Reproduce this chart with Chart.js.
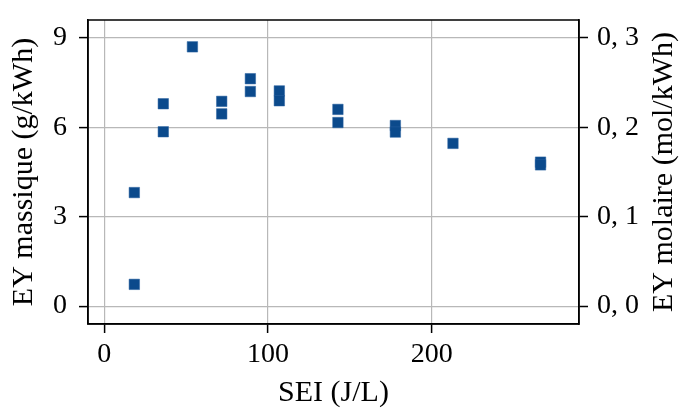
<!DOCTYPE html>
<html lang="fr">
<head>
    <meta charset="UTF-8">
    <title>EY vs SEI</title>
    <script src="https://cdn.jsdelivr.net/npm/chart.js"></script>
    <style>
        body { margin: 0; background: #fff; }
        canvas { display: block; }
    </style>
</head>
<body>
    <canvas id="eyChart" width="679" height="408"></canvas>

    <script>
        // Data
        const sei = [18.3, 18.3, 36, 36, 53.8, 71.7, 71.7, 89.2, 89.2, 106.9, 106.9, 142.7, 142.7, 177.8, 177.8, 213, 266.5, 266.5];
        const eyMassique = [3.81, 0.73, 6.79, 5.85, 8.70, 6.87, 6.45, 7.63, 7.20, 7.22, 6.89, 6.60, 6.16, 6.06, 5.84, 5.46, 4.83, 4.74];

        const xTicks = [0, 100, 200];
        const leftTicks = [0, 3, 6, 9];
        const rightTicks = [0, 0.1, 0.2, 0.3];
        const molFactor = 30; // g/kWh -> mol/kWh

        const FONT = "'Liberation Serif', 'DejaVu Serif', serif";
        const tickFont = { family: FONT, size: 28 };
        const titleFont = { family: FONT, size: 30, lineHeight: 1 };

        // frame on all four sides + right title reading upwards
        const framePlugin = {
            id: 'frame',
            afterDraw(chart) {
                const { ctx, chartArea: a } = chart;
                ctx.save();
                ctx.strokeStyle = '#000';
                ctx.lineWidth = 1.5;
                ctx.strokeRect(a.left, a.top, a.right - a.left, a.bottom - a.top);
                ctx.translate(664, (a.top + a.bottom) / 2);
                ctx.rotate(-Math.PI / 2);
                ctx.font = '30px ' + FONT;
                ctx.fillStyle = '#000';
                ctx.textAlign = 'center';
                ctx.textBaseline = 'middle';
                ctx.fillText('EY molaire (mol/kWh)', 0, 0);
                ctx.restore();
            }
        };

        const noPad = s => { s.paddingTop = 0; s.paddingBottom = 0; s.paddingLeft = 0; s.paddingRight = 0; };

        const ctx = document.getElementById('eyChart').getContext('2d');
        const eyChart = new Chart(ctx, {
            type: 'scatter',
            data: {
                datasets: [{
                    data: sei.map((x, i) => ({ x: x, y: eyMassique[i] })),
                    backgroundColor: '#0b4a8c',
                    borderColor: '#2a63a0',
                    borderWidth: 0.5,
                    pointStyle: 'rect',
                    pointRadius: 7.4,
                    pointHoverRadius: 7.4
                }]
            },
            options: {
                responsive: false,
                animation: false,
                layout: { padding: { top: 20, left: 0, right: 0, bottom: 0 } },
                plugins: {
                    legend: { display: false },
                    tooltip: { enabled: false }
                },
                scales: {
                    x: {
                        type: 'linear',
                        min: -10,
                        max: 290,
                        afterBuildTicks: s => { s.ticks = xTicks.map(v => ({ value: v })); },
                        afterFit: s => { s.height = 84; noPad(s); },
                        grid: { color: '#b8b8b8', lineWidth: 1.2, tickColor: '#000', tickLength: 9, tickWidth: 1.5 },
                        border: { color: '#000', width: 1.5 },
                        ticks: { color: '#000', font: tickFont, padding: 5, maxRotation: 0 },
                        title: { display: true, text: 'SEI (J/L)', color: '#000', font: titleFont, padding: { top: 0, bottom: 0 } }
                    },
                    y: {
                        position: 'left',
                        min: -0.6,
                        max: 9.6,
                        afterBuildTicks: s => { s.ticks = leftTicks.map(v => ({ value: v })); },
                        afterFit: s => { s.width = 88; noPad(s); },
                        grid: { color: '#b8b8b8', lineWidth: 1.2, tickColor: '#000', tickLength: 9, tickWidth: 1.5 },
                        border: { color: '#000', width: 1.5 },
                        ticks: { color: '#000', font: tickFont, padding: 12 },
                        title: { display: true, text: 'EY massique (g/kWh)', color: '#000', font: titleFont, padding: { top: 9, bottom: 0 } }
                    },
                    y2: {
                        position: 'right',
                        min: -0.6 / molFactor,
                        max: 9.6 / molFactor,
                        afterBuildTicks: s => { s.ticks = rightTicks.map(v => ({ value: v })); },
                        afterFit: s => { s.width = 100; noPad(s); },
                        grid: { drawOnChartArea: false, tickColor: '#000', tickLength: 9, tickWidth: 1.5 },
                        border: { color: '#000', width: 1.5 },
                        ticks: {
                            color: '#000', font: tickFont, padding: 9,
                            callback: v => v.toFixed(1).replace('.', ', ')
                        }
                    }
                }
            },
            plugins: [framePlugin]
        });
    </script>
</body>
</html>
